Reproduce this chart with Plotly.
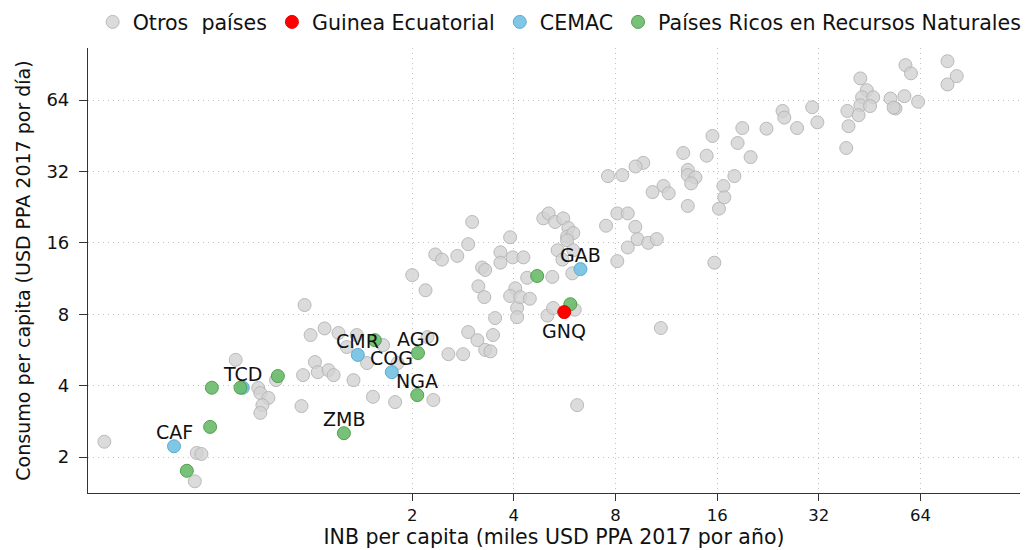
import numpy as np
import plotly.graph_objects as go

# GNI per capita (thousand USD PPP 2017 / year) and consumption per capita (USD PPP 2017 / day)
otros_x = [0.245, 0.454, 0.46, 0.475, 0.60, 0.70, 0.71, 0.75, 0.72, 0.71, 0.79, 0.94,
           0.96, 1.00, 1.10, 1.21, 1.28, 1.37, 1.64, 1.47, 1.81, 1.03, 0.95, 1.05, 1.13,
           1.17, 1.34, 1.53, 1.78, 2.31, 2.22, 2.56, 2.83, 2.93, 3.12, 3.47, 3.52, 3.29,
           3.41, 2.19, 6.16, 10.9, 4.09, 4.09, 5.03, 5.23, 6.06, 3.01, 3.90, 2.93, 2.34,
           2.45, 2.72, 3.65, 3.65, 3.97, 4.27, 3.22, 3.29, 2.00, 3.14, 3.27, 4.04, 3.90,
           4.18, 4.46, 4.38, 5.20, 5.39, 5.57, 5.96, 4.89, 5.07, 5.30, 5.60, 5.80, 5.75,
           6.00, 5.75, 6.00, 8.10, 8.70, 7.50, 9.16, 8.70, 9.30, 10.0, 10.6, 8.10, 11.1,
           10.3, 11.5, 77.0, 82.0, 77.0, 57.8, 60.0, 42.5, 44.4, 43.0, 46.4, 42.5, 45.4,
           52.2, 54.0, 53.3, 57.4, 63.0, 38.9, 42.0, 39.2, 38.6, 30.6, 31.7, 25.0, 25.3,
           27.6, 22.4, 19.0, 18.4, 20.1, 15.5, 14.9, 12.7, 9.67, 9.17, 8.38, 7.60, 13.1,
           13.1, 13.8, 13.4, 13.1, 16.7, 16.8, 16.2, 18.0, 15.7]
otros_y = [2.32, 1.58, 2.08, 2.06, 5.14, 3.91, 3.72, 3.55, 3.31, 3.07, 4.22, 3.28,
           8.75, 6.54, 6.97, 6.67, 5.82, 6.54, 5.93, 4.98, 4.98, 5.03, 4.43, 4.56, 4.65,
           4.43, 4.22, 3.59, 3.41, 3.48, 6.41, 5.43, 5.43, 6.73, 6.22, 6.54, 7.71, 5.66,
           5.58, 10.1, 3.31, 7.00, 8.50, 7.78, 7.90, 8.50, 8.36, 19.6, 16.9, 15.8, 14.3,
           13.6, 14.1, 14.6, 13.2, 13.9, 13.9, 12.6, 12.3, 11.7, 10.5, 9.45, 10.3, 9.55,
           9.45, 9.30, 11.4, 11.5, 14.9, 13.6, 11.9, 20.3, 21.3, 19.6, 20.3, 18.5, 17.0,
           17.6, 16.4, 14.9, 21.3, 21.3, 18.9, 18.7, 15.3, 16.6, 16.0, 16.6, 13.4, 27.8,
           26.2, 25.9, 93.4, 80.8, 74.5, 89.9, 83.0, 79.0, 70.5, 65.8, 65.8, 60.9, 60.4,
           65.0, 59.0, 59.5, 66.5, 63.0, 57.6, 55.3, 49.7, 40.2, 59.7, 51.6, 57.6, 54.0,
           48.8, 48.5, 48.8, 42.2, 36.8, 45.2, 37.3, 38.3, 34.8, 33.6, 30.9, 30.6, 32.5,
           30.9, 30.2, 28.5, 22.9, 27.8, 24.9, 22.3, 30.6, 13.2]

cemac_x = [0.394, 0.63, 1.38, 1.74, 6.30]
cemac_y = [2.22, 3.92, 5.39, 4.56, 12.4]
cemac_lab = ["CAF", "TCD", "CMR", "COG", "GAB"]

ricos_x = [0.504, 0.43, 0.51, 0.62, 0.80, 1.255, 1.55, 2.08, 2.07, 4.69, 5.88]
ricos_y = [2.68, 1.75, 3.92, 3.92, 4.39, 2.52, 6.22, 5.49, 3.65, 11.6, 8.82]
ricos_lab = ["", "", "", "", "", "ZMB", "", "AGO", "NGA", "", ""]

gnq_x = [5.64]
gnq_y = [8.17]
gnq_lab = ["GNQ"]

tick_vals = [2, 4, 8, 16, 32, 64]
tick_text = ["2", "4", "8", "16", "32", "64"]

FONT = "DejaVu Sans"

fig = go.Figure()

fig.add_trace(go.Scatter(
    x=otros_x, y=otros_y, mode="markers", name="Otros\u00a0 países", legendrank=1,
    marker=dict(size=13, color="rgba(210,210,210,0.8)",
                line=dict(color="rgba(180,180,180,0.9)", width=1)),
))
fig.add_trace(go.Scatter(
    x=cemac_x, y=cemac_y, mode="markers", name="CEMAC", legendrank=3,
    marker=dict(size=13, color="rgba(120,196,228,0.95)",
                line=dict(color="rgba(95,170,205,1)", width=1)),
))
fig.add_trace(go.Scatter(
    x=ricos_x, y=ricos_y, mode="markers", name="Países Ricos en Recursos Naturales",
    legendrank=4,
    marker=dict(size=13, color="rgba(108,188,108,0.92)",
                line=dict(color="rgba(80,160,80,1)", width=1)),
))
fig.add_trace(go.Scatter(
    x=gnq_x, y=gnq_y, mode="markers", name="Guinea Ecuatorial", legendrank=2,
    marker=dict(size=13, color="rgb(255,0,0)", line=dict(color="rgb(235,0,0)", width=1)),
))

# country code labels: above the point, GNQ below
for xs, ys, labs in [(cemac_x, cemac_y, cemac_lab), (ricos_x, ricos_y, ricos_lab),
                     (gnq_x, gnq_y, gnq_lab)]:
    for xv, yv, lab in zip(xs, ys, labs):
        if not lab:
            continue
        shift = -19 if lab == "GNQ" else 14
        fig.add_annotation(x=np.log10(xv), y=np.log10(yv), text=lab, showarrow=False,
                           yshift=shift, font=dict(family=FONT, size=19, color="#111"))

log2 = np.log10(2)
axis_common = dict(
    type="log", tickvals=tick_vals, ticktext=tick_text,
    showline=True, linecolor="#333", linewidth=1.2,
    ticks="outside", tickcolor="#333", tickwidth=1.2,
    showgrid=True, gridcolor="#c0c0c0", gridwidth=1, griddash="1px,4px",
    zeroline=False, automargin=False,
)

fig.update_layout(
    width=1030, height=550,
    margin=dict(l=88, r=10, t=48, b=57, autoexpand=False),
    paper_bgcolor="white", plot_bgcolor="white",
    font=dict(family=FONT, color="#111"),
    xaxis=dict(axis_common, range=[-2.19 * log2, 6.98 * log2], ticklen=7,
               tickfont=dict(family=FONT, size=16.5, color="#111"),
               title=dict(text="INB per capita (miles USD PPA 2017 por año)",
                          font=dict(family=FONT, size=20.5, color="#111"), standoff=0),
               ticklabelstandoff=0),
    yaxis=dict(axis_common, range=[0.496 * log2, 6.73 * log2], ticklen=8,
               tickfont=dict(family=FONT, size=18, color="#111"),
               title=dict(text="Consumo per capita (USD PPA 2017 por día)",
                          font=dict(family=FONT, size=19, color="#111"), standoff=10),
               ticklabelstandoff=6),
    legend=dict(orientation="h", x=0.005, xanchor="left", y=1.0135, yanchor="bottom",
                yref="paper", font=dict(family=FONT, size=20.6, color="#111"),
                bgcolor="rgba(0,0,0,0)", itemclick=False),
    showlegend=True,
)

fig.write_html("out.html")
